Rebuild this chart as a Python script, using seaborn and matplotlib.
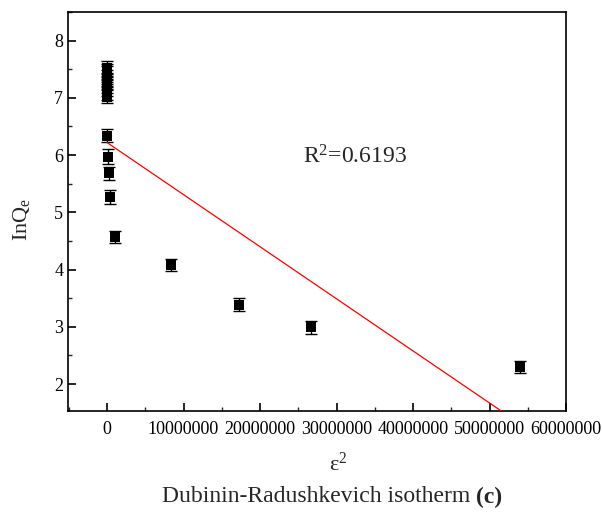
import matplotlib
matplotlib.use("Agg")
import matplotlib.pyplot as plt
import seaborn as sns
import numpy as np
import pandas as pd
from matplotlib.ticker import MultipleLocator, FixedLocator

sns.set_theme(style="ticks")
plt.rcParams['font.family'] = ['Liberation Serif', 'DejaVu Serif']
plt.rcParams['mathtext.fontset'] = 'custom'
plt.rcParams['mathtext.rm'] = 'Liberation Serif'
plt.rcParams['mathtext.it'] = 'Liberation Serif:italic'
plt.rcParams['mathtext.bf'] = 'Liberation Serif:bold'

# data
eps2 = [0, 0, 0, 0, 0, 0, 0, 0, 0, 0,
        0, 1.0e5, 2.0e5, 3.5e5, 1.1e6, 8.4e6, 1.72e7, 2.67e7, 5.4e7]
lnQe = [7.02, 7.08, 7.14, 7.20, 7.26, 7.32, 7.38, 7.44, 7.49, 7.53,
        6.34, 5.97, 5.68, 5.27, 4.57, 4.08, 3.39, 2.99, 2.30]
err = [0.11, 0.11, 0.11, 0.11, 0.11, 0.11, 0.11, 0.11, 0.11, 0.11,
       0.11, 0.13, 0.12, 0.12, 0.11, 0.11, 0.11, 0.11, 0.11]
fit_intercept = 6.22
fit_slope = -9.1e-8
r2_text = "R$^{\\mathrm{2}}$=0.6193"
xticks = [0, 10000000, 20000000, 30000000, 40000000, 50000000, 60000000]
yticks = [2, 3, 4, 5, 6, 7, 8]

df = pd.DataFrame({"eps2": eps2, "lnQe": lnQe})
fit_x = [0, 6e7]
fit_df = pd.DataFrame({"x": fit_x, "y": [fit_intercept + fit_slope * v for v in fit_x]})

fig = plt.figure(figsize=(6.02, 5.13), dpi=100)
ax = fig.add_axes([68/602, 1 - 411/513, (566-68)/602, (411-12)/513])

ax.errorbar(eps2, lnQe, yerr=err, fmt='none', ecolor='black', elinewidth=1.0,
            capsize=4.3, capthick=1.0, zorder=2)
sns.scatterplot(data=df, x="eps2", y="lnQe", marker='s', s=55, color='black',
                edgecolor='black', linewidth=0, ax=ax, zorder=3)
sns.lineplot(data=fit_df, x="x", y="y", color='red', linewidth=0.9, ax=ax, zorder=4)

ax.set_xlim(-5.1e6, 6e7)
ax.set_ylim(1.53, 8.5)
ax.xaxis.set_major_locator(FixedLocator(xticks))
ax.set_xticklabels([str(v) for v in xticks])
ax.xaxis.set_minor_locator(MultipleLocator(5e6))
ax.yaxis.set_major_locator(FixedLocator(yticks))
ax.yaxis.set_minor_locator(MultipleLocator(0.5))
ax.tick_params(axis='both', which='major', direction='in', length=6, width=1.2,
               labelsize=13, colors='black', top=False, right=False)
ax.tick_params(axis='both', which='minor', direction='in', length=3, width=1.0,
               top=False, right=False)
ax.tick_params(axis='x', pad=7)
for s in ax.spines.values():
    s.set_linewidth(1.2)
    s.set_color('black')

ax.set_xlabel("ε$^{\\mathrm{2}}$", fontsize=16)
ax.xaxis.set_label_coords((338 - 68) / 498, -(464 - 411) / 399)
ax.xaxis.label.set_va('center')
ax.set_ylabel("InQ$_{\\mathrm{e}}$", fontsize=16)
ax.yaxis.set_label_coords((22 - 68) / 498, (411 - 219) / 399)
ax.yaxis.label.set_va('center')
ax.text(2.56e7, 5.97, r2_text, fontsize=17, va='center', ha='left')

fig.text(476/602, 1 - 497/513, "Dubinin-Radushkevich isotherm ", fontsize=17,
         ha='right', va='center')
fig.text(476/602, 1 - 497/513, "(c)", fontsize=17, fontweight='bold',
         ha='left', va='center')

fig.savefig("out.png", dpi=100)
